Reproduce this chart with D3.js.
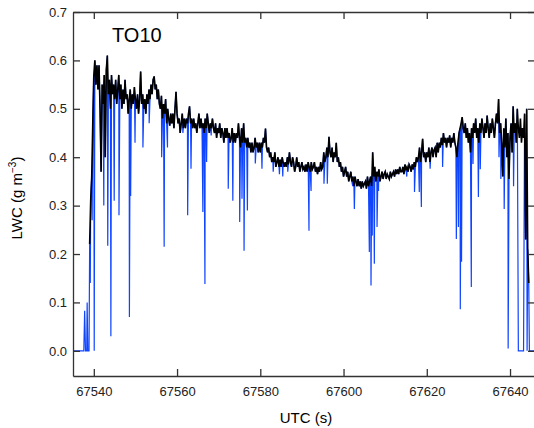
<!DOCTYPE html>
<meta charset="utf-8">
<style>
body { margin: 0; background: #fff; }
text { font-family: "Liberation Sans", Arial, sans-serif; }
.axis path, .axis line { stroke: #333; stroke-width: 1.3px; }
.axis text { font-size: 13px; fill: #222; }
</style>
<body>
<script src="https://d3js.org/d3.v7.min.js"></script>
<script>

// black trace: sampled every 0.25 s starting at blackStart
var blackStart = 67539.0, step = 0.25;
var blackLWC = [
  0.22, 0.31, 0.36, 0.47,      // 67539
  0.57, 0.60, 0.55, 0.59,
  0.54, 0.59, 0.50, 0.37,
  0.55, 0.51, 0.57, 0.40,
  0.58, 0.61, 0.53, 0.56,
  0.50, 0.57, 0.53, 0.55,      // 67544
  0.52, 0.56, 0.51, 0.54,
  0.57, 0.52, 0.55, 0.50,
  0.54, 0.51, 0.56, 0.52,
  0.53, 0.49, 0.52, 0.54,
  0.50, 0.53, 0.51, 0.545,     // 67549
  0.52, 0.50, 0.53, 0.49,
  0.52, 0.577, 0.51, 0.53,
  0.50, 0.52, 0.49, 0.53,
  0.51, 0.54, 0.52, 0.55,
  0.53, 0.56, 0.567, 0.54,     // 67554
  0.55, 0.52, 0.54, 0.51,
  0.50, 0.527, 0.48, 0.51,
  0.49, 0.52, 0.47, 0.50,
  0.48, 0.465, 0.49, 0.47,
  0.49, 0.46, 0.50, 0.535,     // 67559
  0.49, 0.47, 0.48, 0.45,
  0.47, 0.49, 0.46, 0.48,
  0.46, 0.48, 0.47, 0.49,
  0.505, 0.47, 0.48, 0.46,
  0.48, 0.46, 0.47, 0.45,      // 67564
  0.47, 0.49, 0.46, 0.48,
  0.46, 0.47, 0.45, 0.48,
  0.46, 0.49, 0.47, 0.45,
  0.47, 0.46, 0.48, 0.46,
  0.45, 0.47, 0.44, 0.46,      // 67569
  0.45, 0.47, 0.44, 0.46,
  0.45, 0.43, 0.46, 0.44,
  0.46, 0.44, 0.45, 0.43,
  0.44, 0.46, 0.43, 0.45,
  0.43, 0.45, 0.44, 0.47,      // 67574
  0.44, 0.42, 0.46, 0.43,
  0.47, 0.43, 0.44, 0.42,
  0.44, 0.42, 0.43, 0.41,
  0.43, 0.41, 0.42, 0.44,
  0.42, 0.43, 0.41, 0.43,      // 67579
  0.41, 0.43, 0.42, 0.44,
  0.43, 0.459, 0.42, 0.41,
  0.42, 0.40, 0.41, 0.39,
  0.40, 0.39, 0.41, 0.38,
  0.39, 0.40, 0.38, 0.395,     // 67584
  0.38, 0.40, 0.39, 0.38,
  0.39, 0.38, 0.40, 0.385,
  0.41, 0.39, 0.38, 0.40,
  0.39, 0.37, 0.38, 0.40,
  0.38, 0.39, 0.37, 0.38,      // 67589
  0.39, 0.375, 0.38, 0.37,
  0.385, 0.37, 0.39, 0.38,
  0.37, 0.39, 0.375, 0.38,
  0.39, 0.37, 0.38, 0.365,
  0.38, 0.37, 0.39, 0.375,     // 67594
  0.38, 0.41, 0.39, 0.40,
  0.42, 0.40, 0.442, 0.41,
  0.40, 0.42, 0.39, 0.41,
  0.40, 0.43, 0.39, 0.40,
  0.38, 0.39, 0.37, 0.38,      // 67599
  0.36, 0.37, 0.38, 0.36,
  0.37, 0.35, 0.36, 0.37,
  0.35, 0.36, 0.34, 0.36,
  0.35, 0.34, 0.355, 0.34,
  0.35, 0.335, 0.35, 0.34,     // 67604
  0.345, 0.35, 0.335, 0.36,
  0.34, 0.35, 0.36, 0.34,
  0.41, 0.36, 0.38, 0.35,
  0.37, 0.36, 0.375, 0.35,
  0.36, 0.37, 0.355, 0.365,    // 67609
  0.37, 0.355, 0.365, 0.36,
  0.355, 0.37, 0.36, 0.365,
  0.37, 0.36, 0.375, 0.365,
  0.375, 0.365, 0.38, 0.37,
  0.37, 0.38, 0.365, 0.385,    // 67614
  0.375, 0.38, 0.37, 0.385,
  0.38, 0.37, 0.385, 0.375,
  0.39, 0.38, 0.40, 0.39,
  0.40, 0.42, 0.39, 0.41,
  0.438, 0.40, 0.41, 0.39,     // 67619
  0.41, 0.40, 0.42, 0.39,
  0.41, 0.42, 0.40, 0.415,
  0.42, 0.40, 0.43, 0.41,
  0.43, 0.42, 0.44, 0.425,
  0.45, 0.43, 0.44, 0.42,      // 67624
  0.44, 0.43, 0.445, 0.42,
  0.44, 0.43, 0.45, 0.43,
  0.42, 0.40, 0.43, 0.45,
  0.46, 0.47, 0.483, 0.46,
  0.45, 0.47, 0.44, 0.46,      // 67629
  0.43, 0.45, 0.41, 0.46,
  0.44, 0.47, 0.45, 0.48,
  0.44, 0.46, 0.43, 0.47,
  0.45, 0.48, 0.46, 0.44,
  0.47, 0.45, 0.486, 0.46,     // 67634
  0.44, 0.47, 0.45, 0.48,
  0.46, 0.44, 0.47, 0.49,
  0.47, 0.52, 0.45, 0.47,
  0.43, 0.36, 0.46, 0.42,
  0.48, 0.40, 0.45, 0.355,     // 67639
  0.44, 0.47, 0.41, 0.505,
  0.45, 0.47, 0.43, 0.50,
  0.46, 0.44, 0.48, 0.43,
  0.46, 0.44, 0.49, 0.23,
  0.50, 0.21, 0.14             // 67644
];

// blue trace: follows the black one, except at these times
var blueTimes = [
  67535.0, 67537.6, 67537.8, 67538.0, 67538.3, 67538.4, 67538.55, 67538.85,
  67539.15, 67539.6, 67540.1,
  67542.4, 67543.35, 67544.1, 67544.9, 67546.05, 67548.55, 67548.85, 67549.9,
  67551.8, 67553.3, 67556.3, 67556.9, 67557.7, 67561.4, 67562.55, 67563.35,
  67566.2, 67566.7, 67567.1, 67568.2, 67572.3, 67573.4, 67575.05, 67575.6,
  67576.1, 67576.9, 67578.8, 67580.4, 67583.1, 67584.6, 67585.4, 67586.6,
  67591.7, 67592.2, 67595.3, 67596.1, 67602.2, 67602.6, 67606.2, 67606.6,
  67606.9, 67607.4, 67608.05, 67608.4, 67615.2, 67617.05, 67618.2, 67618.7,
  67620.8, 67623.8, 67627.1, 67627.6, 67628.05, 67628.35, 67630.7, 67631.1,
  67632.4, 67632.85, 67637.35, 67637.8, 67638.6, 67639.55, 67640.85,
  67642.0, 67642.25, 67642.5, 67642.75, 67643.0, 67643.25, 67644.1,
  67644.65, 67645.9
];
var blueValues = [
  0, 0, 0.083, 0, 0, 0.1, 0, 0,
  0.14, 0.27, 0.0,
  0.30, 0.217, 0.03, 0.31, 0.28, 0.07, 0.32, 0.43,
  0.42, 0.47, 0.40, 0.215, 0.42, 0.45, 0.28, 0.376,
  0.287, 0.138, 0.39, 0.445, 0.335, 0.31, 0.266, 0.314,
  0.207, 0.29, 0.387, 0.376, 0.37, 0.365, 0.36, 0.37,
  0.248, 0.33, 0.345, 0.345, 0.34, 0.293, 0.204, 0.135,
  0.238, 0.18, 0.256, 0.33, 0.36, 0.328, 0.328, 0.297,
  0.376, 0.38, 0.231, 0.256, 0.086, 0.184, 0.132, 0.386,
  0.318, 0.375, 0.40, 0.355, 0.293, 0.005, 0.34,
  0, 0, 0, 0, 0, 0, 0.0,
  0, 0
];

var yTicks = [0.0, 0.1, 0.2, 0.3, 0.4, 0.5, 0.6, 0.7];
var xTicks = [67540, 67560, 67580, 67600, 67620, 67640];

var W = 534, H = 428;
var mLeft = 73, mRight = 535, mTop = 12, mBottom = 376;

var svg = d3.select("body").append("svg")
    .attr("width", W)
    .attr("height", H);

var x = d3.scaleLinear().domain([67535, 67646]).range([mLeft, mRight]);
var y = d3.scaleLinear().domain([-0.052, 0.7]).range([mBottom, mTop]);

var black = blackLWC.map(function (v, i) {
    return {t: blackStart + i * step, v: v};
});

var byT = new Map();
black.forEach(function (d) { byT.set(d.t.toFixed(2), d.v); });
blueTimes.forEach(function (t, i) { byT.set(t.toFixed(2), blueValues[i]); });
var blue = Array.from(byT, function (e) { return {t: +e[0], v: e[1]}; })
    .sort(function (a, b) { return a.t - b.t; });

svg.append("clipPath").attr("id", "clip")
    .append("rect")
    .attr("x", mLeft).attr("y", mTop)
    .attr("width", mRight - mLeft).attr("height", mBottom - mTop);

var line = d3.line()
    .x(function (d) { return x(d.t); })
    .y(function (d) { return y(d.v); });

var plot = svg.append("g").attr("clip-path", "url(#clip)");

plot.append("path")
    .attr("d", line(blue))
    .attr("fill", "none")
    .attr("stroke", "#1045ff")
    .attr("stroke-width", 1.2);

plot.append("path")
    .attr("d", line(black))
    .attr("fill", "none")
    .attr("stroke", "#000")
    .attr("stroke-width", 1.6);

// axes, ticks pointing inward
svg.append("g").attr("class", "axis")
    .attr("transform", "translate(" + mLeft + ",0)")
    .call(d3.axisLeft(y).tickValues(yTicks).tickFormat(d3.format(".1f"))
        .tickSizeInner(-7).tickSizeOuter(0).tickPadding(6));

svg.append("g").attr("class", "axis")
    .attr("transform", "translate(" + mRight + ",0)")
    .call(d3.axisRight(y).tickValues(yTicks).tickFormat("")
        .tickSizeInner(-7).tickSizeOuter(0));

svg.append("g").attr("class", "axis")
    .attr("transform", "translate(0," + mBottom + ")")
    .call(d3.axisBottom(x).tickValues(xTicks).tickFormat(d3.format("d"))
        .tickSizeInner(-7).tickSizeOuter(0).tickPadding(11));

svg.append("g").attr("class", "axis")
    .attr("transform", "translate(0," + mTop + ")")
    .call(d3.axisTop(x).tickValues(xTicks).tickFormat("")
        .tickSizeInner(-7).tickSizeOuter(0));

svg.append("text")
    .attr("x", (mLeft + mRight) / 2 + 2)
    .attr("y", 423)
    .attr("text-anchor", "middle")
    .style("font-size", "15px")
    .text("UTC (s)");

var yl = svg.append("text")
    .attr("transform", "translate(22," + ((mTop + mBottom) / 2 + 4) + ") rotate(-90)")
    .attr("text-anchor", "middle")
    .style("font-size", "15px");
yl.append("tspan").text("LWC (g m");
yl.append("tspan").attr("dy", -6).style("font-size", "10px").text("−3");
yl.append("tspan").attr("dy", 6).text(")");

svg.append("text")
    .attr("x", 112)
    .attr("y", 42)
    .style("font-size", "20px")
    .text("TO10");

</script>
</body>
